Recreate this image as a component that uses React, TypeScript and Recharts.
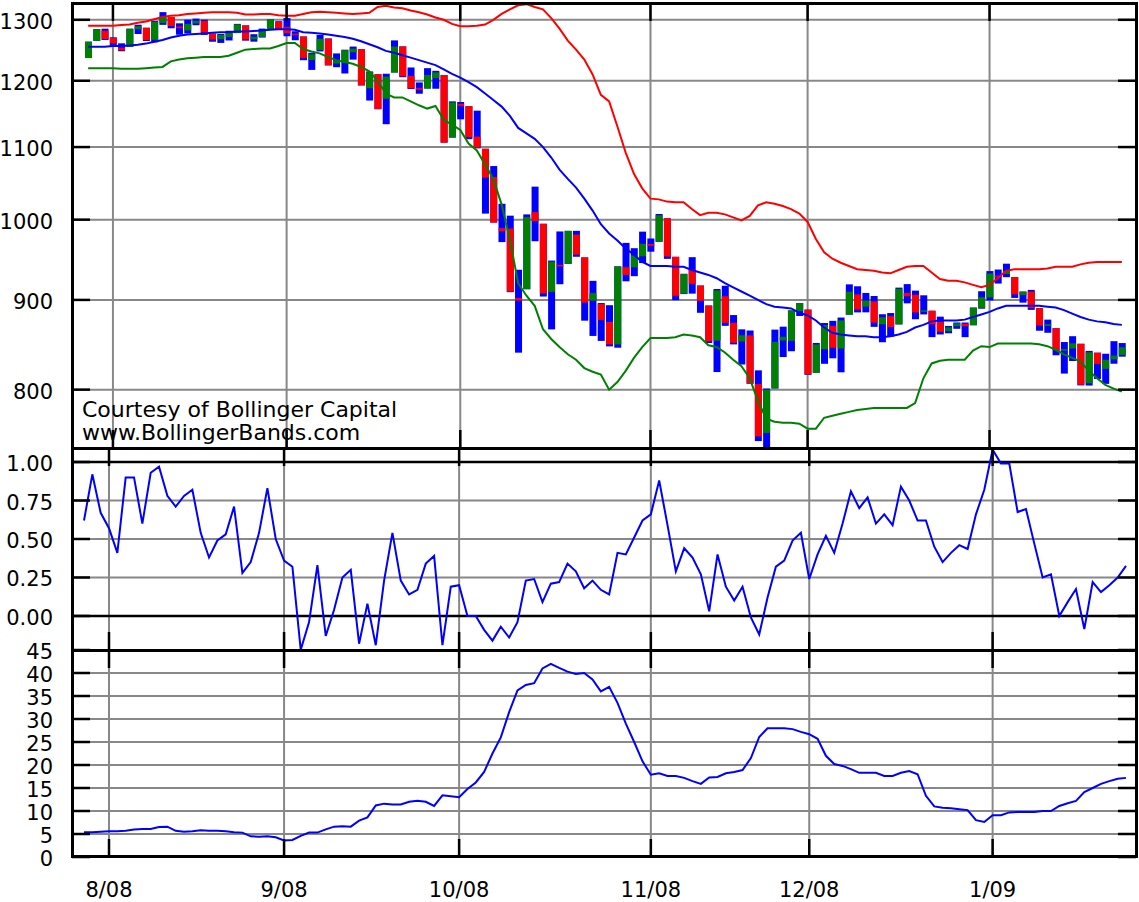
import { Bar, CartesianGrid, ComposedChart, Line, ReferenceLine, XAxis, YAxis } from 'recharts'

const dates = [
  '7/29/08', '7/30/08', '7/31/08',
  '8/1/08', '8/4/08', '8/5/08', '8/6/08', '8/7/08', '8/8/08', '8/11/08', '8/12/08', '8/13/08', '8/14/08', '8/15/08',
  '8/18/08', '8/19/08', '8/20/08', '8/21/08', '8/22/08', '8/25/08', '8/26/08', '8/27/08', '8/28/08', '8/29/08',
  '9/2/08', '9/3/08', '9/4/08', '9/5/08', '9/8/08', '9/9/08', '9/10/08', '9/11/08', '9/12/08', '9/15/08', '9/16/08',
  '9/17/08', '9/18/08', '9/19/08', '9/22/08', '9/23/08', '9/24/08', '9/25/08', '9/26/08', '9/29/08', '9/30/08',
  '10/1/08', '10/2/08', '10/3/08', '10/6/08', '10/7/08', '10/8/08', '10/9/08', '10/10/08', '10/13/08', '10/14/08',
  '10/15/08', '10/16/08', '10/17/08', '10/20/08', '10/21/08', '10/22/08', '10/23/08', '10/24/08', '10/27/08',
  '10/28/08', '10/29/08', '10/30/08', '10/31/08',
  '11/3/08', '11/4/08', '11/5/08', '11/6/08', '11/7/08', '11/10/08', '11/11/08', '11/12/08', '11/13/08', '11/14/08',
  '11/17/08', '11/18/08', '11/19/08', '11/20/08', '11/21/08', '11/24/08', '11/25/08', '11/26/08', '11/28/08',
  '12/1/08', '12/2/08', '12/3/08', '12/4/08', '12/5/08', '12/8/08', '12/9/08', '12/10/08', '12/11/08', '12/12/08',
  '12/15/08', '12/16/08', '12/17/08', '12/18/08', '12/19/08', '12/22/08', '12/23/08', '12/24/08', '12/26/08',
  '12/29/08', '12/30/08', '12/31/08',
  '1/2/09', '1/5/09', '1/6/09', '1/7/09', '1/8/09', '1/9/09', '1/12/09', '1/13/09', '1/14/09', '1/15/09', '1/16/09',
  '1/20/09', '1/21/09', '1/22/09', '1/23/09', '1/26/09', '1/27/09',
]

const opens = [
  1236.38, 1264.52, 1281.37,
  1269.42, 1253.27, 1254.87, 1283.99, 1286.51, 1266.29, 1294.42, 1304.79, 1288.64, 1282.11, 1293.85, 1298.14, 1276.65,
  1267.34, 1271.07, 1277.59, 1290.47, 1267.03, 1271.29, 1283.79, 1296.49,
  1287.83, 1276.61, 1271.8, 1233.21, 1249.5, 1267.98, 1227.5, 1229.04, 1245.88, 1250.92, 1188.31, 1210.34, 1172.0,
  1213.11, 1255.37, 1207.61, 1188.79, 1187.87, 1204.47, 1209.07, 1113.78,
  1164.17, 1160.64, 1115.16, 1097.56, 1057.6, 988.91, 988.42, 902.31, 912.75, 1009.97, 994.6, 909.53, 942.29, 943.51,
  980.4, 951.67, 899.08, 895.22, 874.28, 848.92, 939.51, 939.38, 953.11,
  968.67, 971.31, 1001.84, 952.4, 907.44, 936.75, 917.15, 893.39, 853.13, 904.36, 873.23, 852.34, 859.03, 805.87,
  755.84, 801.2, 853.4, 852.9, 886.89,
  888.61, 817.94, 843.6, 869.75, 844.43, 882.71, 906.48, 892.17, 898.35, 871.79, 881.07, 871.53, 908.16, 905.98,
  886.96, 887.2, 874.31, 863.87, 869.51, 872.37, 870.58, 890.59,
  902.99, 929.17, 931.17, 927.45, 905.73, 909.91, 890.4, 869.79, 867.28, 841.99, 844.45, 849.64, 806.77, 839.74,
  822.16, 832.5, 837.3,
]

const highs = [
  1263.2, 1284.33, 1284.93,
  1270.52, 1260.49, 1284.88, 1291.67, 1286.51, 1297.85, 1313.15, 1304.79, 1294.03, 1300.11, 1302.05, 1300.22, 1276.65,
  1276.01, 1281.4, 1293.09, 1290.47, 1275.65, 1285.05, 1300.68, 1297.59,
  1303.04, 1280.6, 1271.8, 1244.94, 1274.42, 1268.66, 1243.9, 1249.98, 1255.09, 1250.92, 1214.84, 1210.34, 1211.14,
  1265.33, 1255.37, 1221.15, 1197.41, 1220.03, 1215.77, 1209.07, 1168.03,
  1167.03, 1160.64, 1153.82, 1097.56, 1072.91, 1021.06, 1005.25, 936.36, 1006.93, 1044.31, 994.6, 947.71, 984.64,
  985.4, 985.44, 951.67, 922.83, 896.3, 893.78, 940.51, 969.97, 963.23, 984.38,
  975.57, 1007.51, 1001.84, 952.4, 931.46, 951.95, 917.15, 893.39, 913.01, 916.88, 882.29, 865.9, 864.57, 820.52,
  801.2, 865.6, 868.94, 887.68, 896.25,
  888.61, 850.54, 873.12, 875.6, 879.42, 918.57, 916.26, 908.27, 904.63, 883.24, 884.63, 914.66, 918.85, 911.02,
  905.47, 887.37, 880.44, 869.79, 873.74, 873.7, 891.12, 910.32,
  934.73, 936.63, 943.85, 927.45, 910.0, 911.93, 890.4, 877.02, 867.28, 851.59, 858.13, 849.64, 841.72, 839.74,
  838.61, 852.53, 850.45,
]

const lows = [
  1236.38, 1264.52, 1265.97,
  1254.54, 1247.45, 1254.67, 1276.0, 1264.29, 1262.11, 1291.41, 1285.64, 1274.86, 1276.84, 1290.74, 1274.51, 1263.11,
  1261.16, 1265.22, 1277.59, 1264.87, 1263.21, 1270.03, 1283.79, 1282.74,
  1272.2, 1265.59, 1232.83, 1217.23, 1247.12, 1224.51, 1221.6, 1211.54, 1233.81, 1192.7, 1169.28, 1155.88, 1133.5,
  1213.11, 1205.61, 1187.06, 1179.79, 1187.87, 1187.54, 1106.42, 1113.78,
  1140.77, 1111.43, 1098.14, 1007.97, 996.23, 970.97, 909.19, 839.8, 912.75, 972.07, 903.99, 865.83, 918.74, 943.51,
  952.47, 875.81, 858.44, 852.85, 846.75, 845.27, 922.26, 928.5, 944.59,
  958.82, 971.31, 949.86, 899.73, 906.9, 907.47, 884.9, 850.48, 818.69, 869.88, 848.98, 826.84, 806.18, 747.78,
  741.02, 801.2, 834.99, 841.37, 881.21,
  815.69, 817.94, 827.6, 833.6, 818.41, 882.71, 885.38, 885.45, 868.73, 851.35, 857.72, 871.53, 895.94, 877.44,
  883.02, 857.09, 860.1, 861.44, 866.52, 857.07, 870.58, 889.67,
  899.35, 919.53, 927.28, 902.37, 896.81, 888.31, 864.32, 862.02, 836.93, 817.04, 830.66, 804.47, 804.3, 811.29,
  806.07, 827.69, 835.4,
]

const closes = [
  1263.2, 1284.26, 1267.38,
  1260.31, 1249.01, 1284.88, 1289.19, 1266.07, 1296.32, 1305.32, 1289.59, 1285.83, 1292.93, 1298.2, 1278.6, 1266.69,
  1274.54, 1277.72, 1292.2, 1266.84, 1271.51, 1281.66, 1300.68, 1282.83,
  1277.58, 1274.98, 1236.83, 1242.31, 1267.79, 1224.51, 1232.04, 1249.05, 1251.7, 1192.7, 1213.6, 1156.39, 1206.51,
  1255.08, 1207.09, 1188.22, 1185.87, 1209.18, 1213.27, 1106.39, 1166.36,
  1161.06, 1114.28, 1099.23, 1056.89, 996.23, 984.94, 909.92, 899.22, 1003.35, 998.01, 907.84, 946.43, 940.55, 985.4,
  955.05, 896.78, 908.11, 876.77, 848.92, 940.51, 930.09, 954.09, 968.75,
  966.3, 1005.75, 952.77, 904.88, 930.99, 919.21, 898.95, 852.3, 911.29, 873.29, 850.75, 859.12, 806.58, 752.44,
  800.03, 851.81, 857.39, 887.68, 896.24,
  816.21, 848.81, 870.74, 845.22, 876.07, 909.7, 888.67, 899.24, 873.59, 879.73, 868.57, 913.18, 904.42, 885.28,
  887.88, 871.63, 863.16, 868.15, 872.8, 869.42, 890.64, 903.25,
  931.8, 927.45, 934.7, 906.65, 909.73, 890.35, 870.26, 871.79, 842.62, 843.74, 850.12, 805.22, 840.24, 827.5,
  831.95, 836.57, 845.71,
]

const upperBand = [
  1290, 1290, 1290, 1290, 1291, 1292, 1295, 1297, 1301, 1305,
  1307, 1308, 1310, 1311, 1312, 1313, 1313, 1313, 1312, 1309,
  1309, 1310, 1310, 1308, 1307, 1307, 1310, 1313, 1314, 1313,
  1312, 1311, 1310, 1311, 1312, 1322, 1324, 1321, 1320, 1316,
  1313, 1309, 1304, 1300, 1293, 1289, 1289, 1290, 1292, 1300,
  1310, 1318, 1325, 1327, 1322, 1318, 1303, 1285, 1265, 1250,
  1234, 1210, 1178, 1168, 1130, 1092, 1062, 1042, 1028, 1027,
  1024, 1023, 1023, 1014, 1006, 1009, 1009, 1007, 1003, 999,
  1005, 1019, 1023, 1021, 1018, 1014, 1008, 997, 975, 958,
  950, 945, 941, 937, 936, 935, 933, 932, 936, 940,
  941, 941, 933, 925, 923, 923, 921, 918, 915, 918,
  926, 935, 937, 937, 937, 937, 938, 940, 940, 940,
  943, 945, 946, 946, 946, 946,
]

const middleBand = [
  1255, 1255, 1255, 1256, 1256, 1257, 1258, 1260, 1263, 1266,
  1270, 1273, 1275, 1276, 1277, 1278, 1279, 1279, 1280, 1280,
  1281, 1282, 1283, 1284, 1284, 1283, 1279, 1278, 1277, 1275,
  1273, 1271, 1268, 1264, 1259, 1254, 1248, 1245, 1241, 1237,
  1233, 1229, 1225, 1218, 1211, 1205, 1198, 1190, 1180, 1170,
  1160, 1146, 1128, 1120, 1112, 1100, 1085, 1068, 1055, 1043,
  1028, 1012, 994, 982, 973, 963, 955, 946, 941, 941,
  941, 940, 940, 936, 933, 930, 926, 920, 915, 910,
  905, 900, 895, 892, 891, 890, 885, 882, 876, 868,
  862, 860, 859, 858, 858, 857, 857, 858, 860, 863,
  868, 871, 875, 876, 876, 876, 877, 880, 883, 886,
  890, 893, 893, 893, 893, 893, 892, 891, 888, 884,
  880, 877, 875, 874, 872, 871,
]

const lowerBand = [
  1220, 1220, 1220, 1220, 1219, 1219, 1219, 1220, 1221, 1222,
  1231, 1234, 1236, 1237, 1238, 1238, 1238, 1240, 1245, 1250,
  1251, 1252, 1252, 1256, 1261, 1261, 1251, 1247, 1244, 1238,
  1233, 1230, 1227, 1222, 1215, 1200, 1180, 1174, 1174, 1168,
  1162, 1157, 1161, 1140, 1133, 1125, 1105, 1095, 1075, 1055,
  1020, 974, 920, 905, 893, 866, 855, 846, 838, 832,
  823, 819, 816, 800, 808, 820, 834, 846, 856, 856,
  856, 857, 860, 859, 857, 848, 846, 840, 832, 825,
  812, 788, 770, 767, 766, 766, 765, 760, 760, 771,
  773, 775, 777, 779, 780, 781, 781, 781, 781, 781,
  786, 812, 828, 831, 832, 832, 832, 842, 847, 846,
  850, 850, 850, 850, 850, 849, 847, 843, 838, 834,
  830, 820, 812, 805, 801, 798,
]

const percentB = [
  0.62, 0.92, 0.67, 0.57, 0.41, 0.9, 0.9, 0.6, 0.93, 0.97,
  0.78, 0.71, 0.78, 0.82, 0.54, 0.38, 0.49, 0.53, 0.71, 0.28,
  0.35, 0.54, 0.83, 0.5, 0.36, 0.32, -0.22, -0.04, 0.33, -0.13,
  0.04, 0.25, 0.3, -0.18, 0.08, -0.19, 0.23, 0.54, 0.23, 0.14,
  0.17, 0.34, 0.39, -0.19, 0.19, 0.2, 0.0, 0.0, -0.09, -0.16,
  -0.07, -0.14, -0.04, 0.23, 0.24, 0.09, 0.21, 0.22, 0.34, 0.29,
  0.18, 0.23, 0.17, 0.14, 0.41, 0.4, 0.51, 0.62, 0.66, 0.88,
  0.59, 0.29, 0.44, 0.38, 0.27, 0.03, 0.4, 0.19, 0.1, 0.19,
  -0.01, -0.12, 0.12, 0.32, 0.36, 0.49, 0.54, 0.24, 0.4, 0.52,
  0.41, 0.6, 0.81, 0.7, 0.77, 0.6, 0.66, 0.59, 0.84, 0.75,
  0.62, 0.62, 0.45, 0.35, 0.41, 0.46, 0.435, 0.66, 0.82, 1.08,
  0.99, 0.99, 0.675, 0.695, 0.47, 0.25, 0.27, 0.0, 0.09, 0.175,
  -0.085, 0.22, 0.155, 0.2, 0.25, 0.325,
]

const bandWidth = [
  5.4, 5.4, 5.5, 5.6, 5.6, 5.7, 6.0, 6.1, 6.1, 6.5,
  6.6, 5.7, 5.5, 5.6, 5.8, 5.7, 5.7, 5.6, 5.4, 5.3,
  4.5, 4.4, 4.5, 4.3, 3.6, 3.7, 4.6, 5.3, 5.3, 6.0,
  6.6, 6.7, 6.6, 7.9, 8.6, 11.2, 11.6, 11.4, 11.4, 12.0,
  12.2, 12.0, 11.1, 13.4, 13.2, 13.0, 14.8, 16.2, 18.5, 22.5,
  26.0, 31.5, 36.2, 37.4, 37.8, 41.0, 42.0, 41.1, 40.3, 39.8,
  40.0, 38.6, 36.0, 37.0, 33.5, 29.0, 25.0, 20.8, 17.9, 18.2,
  17.6, 17.6, 17.2, 16.5, 15.9, 17.3, 17.4, 18.2, 18.5, 18.9,
  21.5, 26.1, 28.0, 28.0, 28.0, 27.8, 27.2, 26.7, 25.7, 22.0,
  20.2, 19.8, 19.1, 18.3, 18.3, 18.3, 17.6, 17.6, 18.3, 18.7,
  18.0, 13.3, 11.0, 10.7, 10.6, 10.4, 10.2, 8.0, 7.6, 9.1,
  9.1, 9.7, 9.8, 9.8, 9.8, 10.0, 10.0, 11.1, 11.7, 12.2,
  14.1, 15.0, 15.9, 16.5, 17.0, 17.2,
]

const monthTicks = ['8/1/08', '9/2/08', '10/1/08', '11/3/08', '12/1/08', '1/2/09']
const monthLabels = ['8/08', '9/08', '10/08', '11/08', '12/08', '1/09']
const priceTicks = [800, 900, 1000, 1100, 1200, 1300]
const pctTicks = [0, 0.25, 0.5, 0.75, 1]
const bwTicks = [0, 5, 10, 15, 20, 25, 30, 35, 40, 45]

const rows = dates.map((date, i) => ({
  date,
  open: opens[i],
  high: highs[i],
  low: lows[i],
  close: closes[i],
  range: [lows[i], highs[i]],
  upper: upperBand[i],
  middle: middleBand[i],
  lower: lowerBand[i],
  pctB: percentB[i],
  bw: bandWidth[i],
}))

const FONT = 'DejaVu Sans'
const GRID = '#888888'
const W = 1139
const PLOT_LEFT = 72
const PLOT_RIGHT = 1136

// blue high-low bar with the open-close body drawn over it (log scale, so interpolate in log space)
const Candle = (props: any) => {
  const { x, y, width, height, payload } = props
  if (!payload || x == null) return null
  const top = Math.min(y, y + height)
  const h = Math.abs(height)
  const lh = Math.log(payload.high)
  const ll = Math.log(payload.low)
  const span = lh - ll || 1
  const at = (v: number) => top + ((lh - Math.log(v)) / span) * h
  const yo = at(payload.open)
  const yc = at(payload.close)
  const cx = x + width / 2
  const bodyTop = Math.min(yo, yc)
  const bodyH = Math.max(Math.abs(yo - yc), 1.5)
  return (
    <g>
      <rect x={cx - 3.5} y={top} width={7} height={Math.max(h, 1)} fill="#0000ff" />
      <rect x={cx - 3.5} y={bodyTop} width={7} height={bodyH} fill={payload.close >= payload.open ? '#008000' : '#ff0000'} />
    </g>
  )
}

const makeYTick = (fmt: (v: number) => string) => (props: any) => {
  const { y, payload } = props
  return (
    <g>
      <text x={53} y={y} dy={9} textAnchor="end" fontSize={21} fontFamily={FONT} fill="#000">
        {fmt(payload.value)}
      </text>
      <line x1={PLOT_LEFT} x2={PLOT_LEFT + 18} y1={y} y2={y} stroke="#000" strokeWidth={2.5} />
      <line x1={PLOT_RIGHT - 18} x2={PLOT_RIGHT} y1={y} y2={y} stroke="#000" strokeWidth={2.5} />
    </g>
  )
}

const makeXTick = (plotTop: number, plotBottom: number, showLabel: boolean) => (props: any) => {
  const { x, payload } = props
  const idx = monthTicks.indexOf(payload.value)
  return (
    <g>
      <line x1={x} x2={x} y1={plotTop} y2={plotTop + 18} stroke="#000" strokeWidth={2.5} />
      <line x1={x} x2={x} y1={plotBottom - 18} y2={plotBottom} stroke="#000" strokeWidth={2.5} />
      {showLabel && (
        <text x={x} y={plotBottom + 40} textAnchor="middle" fontSize={21} fontFamily={FONT} fill="#000">
          {monthLabels[idx]}
        </text>
      )}
    </g>
  )
}

function xAxis(plotTop: number, plotBottom: number, showLabel: boolean, height: number) {
  return (
    <XAxis
      dataKey="date"
      type="category"
      ticks={monthTicks}
      interval={0}
      padding={{ left: 12, right: 10 }}
      axisLine={false}
      tickLine={false}
      height={height}
      tick={makeXTick(plotTop, plotBottom, showLabel)}
    />
  )
}

export default function App() {
  return (
    <div style={{ position: 'absolute', left: 0, top: 0, width: W, height: 902, background: '#fff', overflow: 'hidden' }}>
      <div style={{ position: 'absolute', left: 0, top: -17 }}>
        <ComposedChart width={W} height={485} data={rows} margin={{ top: 20, right: W - PLOT_RIGHT, bottom: 0, left: 0 }}>
          <CartesianGrid stroke={GRID} strokeWidth={2} />
          {xAxis(20, 465, false, 20)}
          <YAxis
            width={PLOT_LEFT}
            type="number"
            scale="log"
            domain={[741, 1329]}
            allowDataOverflow
            ticks={priceTicks}
            interval={0}
            axisLine={false}
            tickLine={false}
            tick={makeYTick((v) => String(v))}
          />
          <Bar dataKey="range" barSize={7} shape={Candle} isAnimationActive={false} />
          <Line dataKey="upper" stroke="#ff0000" strokeWidth={2} dot={false} isAnimationActive={false} />
          <Line dataKey="middle" stroke="#0000ff" strokeWidth={2} dot={false} isAnimationActive={false} />
          <Line dataKey="lower" stroke="#008000" strokeWidth={2} dot={false} isAnimationActive={false} />
        </ComposedChart>
      </div>

      <div style={{ position: 'absolute', left: 0, top: 428 }}>
        <ComposedChart width={W} height={242} data={rows} margin={{ top: 20, right: W - PLOT_RIGHT, bottom: 0, left: 0 }}>
          <CartesianGrid stroke={GRID} strokeWidth={2} />
          {xAxis(20, 222, false, 20)}
          <YAxis
            width={PLOT_LEFT}
            type="number"
            domain={[-0.221, 1.091]}
            allowDataOverflow
            ticks={pctTicks}
            interval={0}
            axisLine={false}
            tickLine={false}
            tick={makeYTick((v) => v.toFixed(2))}
          />
          <ReferenceLine y={1} stroke="#000" strokeWidth={2.5} />
          <ReferenceLine y={0} stroke="#000" strokeWidth={2.5} />
          <Line dataKey="pctB" stroke="#0000ff" strokeWidth={2} dot={false} isAnimationActive={false} />
        </ComposedChart>
      </div>

      <div style={{ position: 'absolute', left: 0, top: 630 }}>
        <ComposedChart width={W} height={272} data={rows} margin={{ top: 20, right: W - PLOT_RIGHT, bottom: 0, left: 0 }}>
          <CartesianGrid stroke={GRID} strokeWidth={2} />
          {xAxis(20, 227, true, 45)}
          <YAxis
            width={PLOT_LEFT}
            type="number"
            domain={[0, 45]}
            allowDataOverflow
            ticks={bwTicks}
            interval={0}
            axisLine={false}
            tickLine={false}
            tick={makeYTick((v) => String(v))}
          />
          <Line dataKey="bw" stroke="#0000ff" strokeWidth={2} dot={false} isAnimationActive={false} />
        </ComposedChart>
      </div>

      <div
        style={{
          position: 'absolute',
          left: 82,
          top: 398,
          fontFamily: FONT,
          fontSize: 22,
          lineHeight: '23px',
          color: '#000',
          whiteSpace: 'nowrap',
        }}
      >
        Courtesy of Bollinger Capital
        <br />
        www.BollingerBands.com
      </div>

      <div
        style={{
          position: 'absolute',
          left: 71,
          top: 2,
          width: 1067,
          height: 856,
          border: '3px solid #000',
          boxSizing: 'border-box',
          pointerEvents: 'none',
        }}
      />
      <div style={{ position: 'absolute', left: 71, top: 447, width: 1067, height: 3, background: '#000' }} />
      <div style={{ position: 'absolute', left: 71, top: 649, width: 1067, height: 3, background: '#000' }} />
    </div>
  )
}
